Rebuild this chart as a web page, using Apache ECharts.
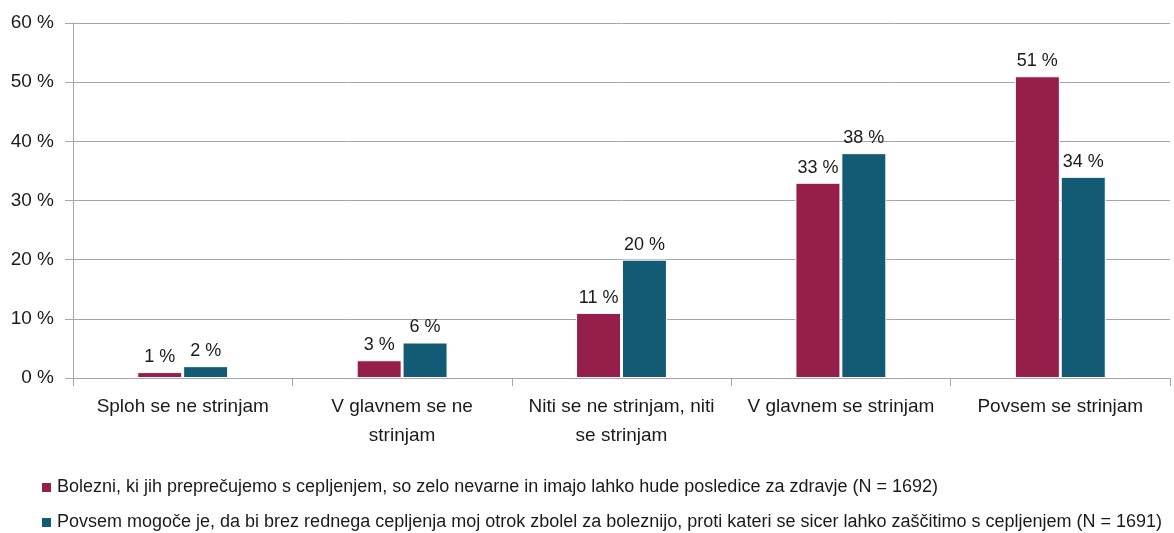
<!DOCTYPE html>
<html>
<head>
<meta charset="utf-8">
<script src="https://cdn.jsdelivr.net/npm/echarts@6/dist/echarts.min.js"></script>
<style>
    html, body {margin: 0; padding: 0; background: #fff;}
    #chart {width: 1174px; height: 533px;}
</style>
</head>
<body>
<div id="chart"></div>
<script>
var categories = [
    'Sploh se ne strinjam',
    'V glavnem se ne\nstrinjam',
    'Niti se ne strinjam, niti\nse strinjam',
    'V glavnem se strinjam',
    'Povsem se strinjam'
];
var seriesNames = [
    'Bolezni, ki jih preprečujemo s cepljenjem, so zelo nevarne in imajo lahko hude posledice za zdravje (N = 1692)',
    'Povsem mogoče je, da bi brez rednega cepljenja moj otrok zbolel za boleznijo, proti kateri se sicer lahko zaščitimo s cepljenjem (N = 1691)'
];
var dangerous = [1, 3, 11, 33, 51];
var couldGetSick = [2, 6, 20, 38, 34];
var colors = ['#951f4a', '#135b75'];

var font = 'Liberation Sans, Arial, sans-serif';

var chart = echarts.init(document.getElementById('chart'));

var barLabel = {
    show: true,
    position: 'top',
    distance: 6,
    formatter: '{c} %',
    color: '#1a1a1a',
    fontSize: 18,
    fontFamily: font
};

chart.setOption({
    animation: false,
    color: colors,
    grid: {left: 73, right: 4, top: 23, bottom: 155},
    legend: {
        orient: 'vertical',
        left: 40,
        top: 477,
        height: 120,
        padding: 0,
        itemWidth: 11,
        itemHeight: 11,
        itemGap: 14,
        icon: 'rect',
        textStyle: {fontSize: 18, lineHeight: 21, color: '#1a1a1a', fontFamily: font},
        data: seriesNames
    },
    xAxis: {
        type: 'category',
        data: categories,
        axisLine: {lineStyle: {color: '#a6a6a6', width: 1}},
        axisTick: {show: true, length: 8, lineStyle: {color: '#a6a6a6'}},
        axisLabel: {
            interval: 0,
            margin: 14,
            color: '#1a1a1a',
            fontSize: 19,
            lineHeight: 29,
            fontFamily: font
        }
    },
    yAxis: {
        type: 'value',
        min: 0,
        max: 60,
        interval: 10,
        axisLine: {show: true, lineStyle: {color: '#a6a6a6'}},
        axisTick: {show: true, length: 8, lineStyle: {color: '#a6a6a6'}},
        splitLine: {lineStyle: {color: '#a6a6a6', width: 1}},
        axisLabel: {
            formatter: '{value} %',
            margin: 19,
            color: '#1a1a1a',
            fontSize: 19,
            fontFamily: font
        }
    },
    series: [
        {
            name: seriesNames[0],
            type: 'bar',
            data: dangerous,
            barWidth: 45,
            barGap: '2%',
            itemStyle: {borderColor: '#fff', borderWidth: 1},
            label: barLabel
        },
        {
            name: seriesNames[1],
            type: 'bar',
            data: couldGetSick,
            barWidth: 45,
            itemStyle: {borderColor: '#fff', borderWidth: 1},
            label: barLabel
        }
    ]
});
</script>
</body>
</html>
